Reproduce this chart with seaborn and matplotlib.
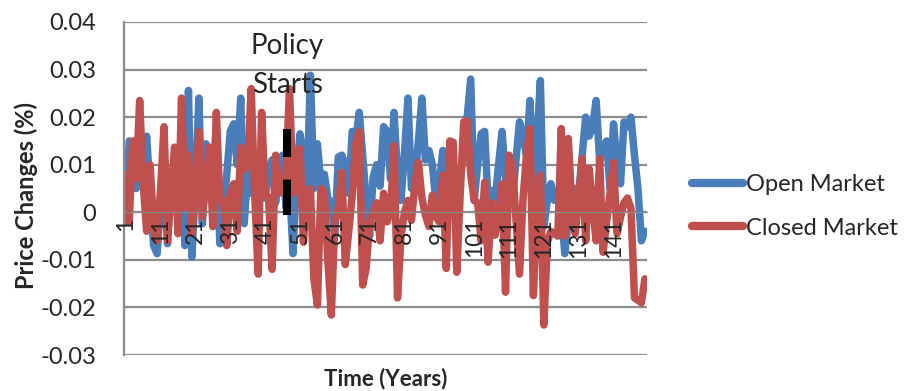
import numpy as np
import pandas as pd
import seaborn as sns
import matplotlib.pyplot as plt

# == Data == #

years = list(range(1, 151))

open_market = [
    -0.002, 0.015, 0.014, 0.005, 0.012, 0.009, 0.016, 0.004, -0.007, -0.0087,
    0.002, 0.006, -0.0066, 0.008, 0.004, -0.001, 0.010, -0.007, 0.0256, -0.0094,
    0.006, 0.024, -0.0024, 0.0144, 0.011, 0.006, 0.018, -0.0066, 0.0004, 0.008,
    0.017, 0.0186, 0.010, 0.024, -0.0024, 0.0088, 0.004, 0.012, 0.006, 0.013,
    0.003, 0.009, 0.011, 0.002, 0.008, 0.012, 0.001, 0.006, -0.0087, 0.008,
    0.0165, 0.012, 0.004, 0.0288, 0.005, 0.0144, 0.006, 0.008, 0.003, 0.002,
    -0.005, 0.0116, 0.012, 0.010, 0.004, 0.017, 0.015, 0.021, 0.012, 0.0025,
    -0.005, 0.0074, 0.010, 0.0055, 0.018, 0.017, 0.007, 0.021, 0.008, 0.0025,
    0.0125, 0.024, 0.005, 0.007, 0.015, 0.024, 0.011, 0.013, 0.010, 0.0025,
    0.006, 0.013, 0.008, 0.004, 0.009, 0.004, 0.008, 0.012, 0.020, 0.028,
    0.0025, 0.010, 0.0165, 0.017, 0.002, 0.0046, 0.0025, 0.010, 0.017, 0.007,
    0.005, 0.0025, 0.011, 0.019, 0.016, 0.012, 0.0235, 0.004, 0.015, 0.0277,
    -0.003, 0.0025, 0.006, 0.0025, 0.0046, 0.001, -0.0087, -0.0017, 0.002, 0.005,
    0.004, 0.012, 0.020, 0.016, 0.018, 0.0235, 0.011, 0.013, 0.015, 0.005,
    0.0186, 0.010, 0.006, 0.019, 0.018, 0.020, 0.012, 0.005, -0.006, -0.004,
]

closed_market = [
    0.008, -0.002, 0.015, 0.007, 0.0235, 0.006, -0.004, 0.010, -0.003, -0.006,
    0.005, 0.018, -0.006, 0.004, 0.0137, -0.0045, 0.024, 0.001, 0.012, -0.0045,
    0.006, 0.017, -0.001, 0.006, 0.0137, -0.003, 0.021, 0.0025, 0.0025, -0.007,
    0.004, 0.006, -0.004, 0.0137, 0.009, 0.010, 0.026, 0.004, -0.013, 0.021,
    0.004, 0.003, -0.012, 0.012, 0.004, 0.005, 0.008, 0.026, 0.004, 0.006,
    0.0134, -0.0063, 0.0042, 0.005, -0.014, -0.0195, 0.005, 0.004, -0.010, -0.0216,
    -0.002, 0.001, 0.0084, -0.011, -0.004, 0.0036, 0.0144, 0.017, -0.0153, -0.0118,
    -0.002, 0.0, 0.002, -0.006, 0.004, -0.002, 0.0, 0.014, -0.018, -0.005,
    0.0, 0.0025, -0.0017, 0.006, 0.0105, 0.003, -0.0006, -0.003, 0.0036, -0.001,
    -0.002, 0.0078, -0.0118, 0.015, 0.0147, -0.0126, 0.004, 0.019, 0.0193, 0.008,
    0.0025, 0.002, -0.006, 0.0063, -0.0105, 0.002, -0.0048, -0.001, 0.006, -0.0168,
    0.012, 0.0099, -0.0017, -0.013, 0.0025, 0.012, 0.0176, -0.0175, 0.002, 0.0078,
    -0.0237, -0.0063, -0.004, -0.0045, -0.005, 0.0176, -0.005, 0.0155, 0.002, -0.0045,
    0.003, 0.0113, -0.006, 0.0092, 0.001, -0.006, 0.0113, -0.0084, -0.002, 0.004,
    0.0105, -0.0045, -0.001, 0.002, 0.003, 0.0008, -0.018, -0.0185, -0.019, -0.014,
]

series_names = ['Open Market', 'Closed Market']
series_colors = ['#4A7EBB', '#C0504D']

policy_year = 47.4
policy_marker = [-0.0006, 0.0176]

y_ticks = [-0.03, -0.02, -0.01, 0, 0.01, 0.02, 0.03, 0.04]
y_tick_labels = ['-0.03', '-0.02', '-0.01', '0', '0.01', '0.02', '0.03', '0.04']
x_tick_years = list(range(1, 150, 10))

df = pd.DataFrame({
    'Time': years * 2,
    'Change': open_market + closed_market,
    'Market': [series_names[0]] * len(years) + [series_names[1]] * len(years),
})

# == Plot == #

sns.set_style('white')
plt.rcParams['font.family'] = ['Lato', 'DejaVu Sans']

fig = plt.figure(figsize=(9.05, 3.91), dpi=100)
ax = fig.add_axes([124 / 905, 1 - 355 / 391, 523 / 905, 333 / 391])

grid_col = '#8C8C8C'

sns.lineplot(data=df, x='Time', y='Change', hue='Market', hue_order=series_names,
             palette=series_colors, linewidth=5.4, ax=ax,
             solid_joinstyle='round', solid_capstyle='round')

ax.vlines(policy_year, policy_marker[0], policy_marker[1], colors='black',
          linewidth=5.8, linestyles=(0, (4.4, 2.8)), zorder=5)
ax.text(policy_year, 0.0349, 'Policy', ha='center', va='center', fontsize=20)
ax.text(policy_year, 0.0267, 'Starts', ha='center', va='center', fontsize=20)

ax.set_xlim(0.72, 150.6)
ax.set_ylim(-0.03, 0.04)
ax.set_yticks(y_ticks)
ax.set_yticklabels(y_tick_labels)
ax.yaxis.grid(True, color=grid_col, linewidth=1.6)
ax.set_axisbelow(True)

ax.set_xticks(x_tick_years)
ax.set_xticklabels([str(v) for v in x_tick_years])
ax.set_xticks(np.arange(0.5, 151, 1), minor=True)
ax.xaxis.set_zorder(6)  # labels sit on top of the lines
ax.spines['bottom'].set_position(('data', 0))
ax.spines['bottom'].set_color(grid_col)
ax.spines['left'].set_color(grid_col)
ax.spines['left'].set_linewidth(1.6)
ax.spines['top'].set_visible(False)
ax.spines['right'].set_visible(False)
ax.tick_params(axis='x', which='major', length=0, pad=4, labelrotation=90, labelsize=16.5)
ax.tick_params(axis='x', which='minor', length=5, color=grid_col, width=1)
ax.tick_params(axis='y', length=6, color=grid_col, width=1.6, pad=14, labelsize=17)

ax.set_xlabel('Time (Years)', fontsize=16, fontweight='bold')
ax.xaxis.set_label_coords(0.5, -0.07)
ax.xaxis.label.set_va('center')
ax.set_ylabel('Price Changes (%)', fontsize=17, fontweight='bold')
ax.yaxis.set_label_coords(-0.165, 0.48)

handles, labels = ax.get_legend_handles_labels()
for h in handles:
    h.set_linewidth(6)
ax.legend(handles, labels, loc='center left', bbox_to_anchor=(680 / 905, 1 - 206.5 / 391),
          bbox_transform=fig.transFigure, frameon=False, fontsize=17, borderpad=0,
          handlelength=2.15, handletextpad=0.15, labelspacing=0.95)

plt.savefig('out.png', dpi=100)
